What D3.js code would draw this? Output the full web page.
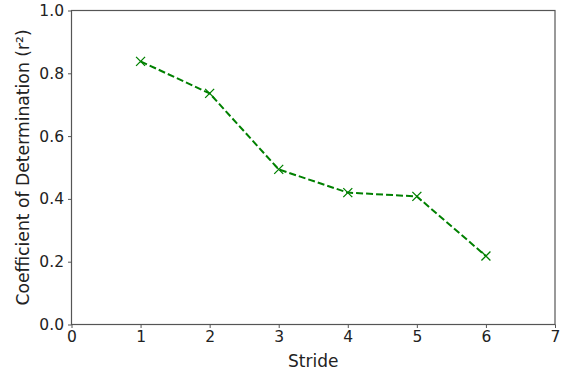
<!DOCTYPE html>
<html>
<head>
<meta charset="utf-8">
<script src="https://cdn.jsdelivr.net/npm/d3@7"></script>
<style>
  body { margin: 0; background: #fff; }
  text { font-family: "DejaVu Sans", sans-serif; fill: #222; }
</style>
</head>
<body>
<svg id="chart" width="565" height="373"></svg>
<script>
// data
const strides = [1, 2, 3, 4, 5, 6];
const r2 = [0.838, 0.736, 0.494, 0.420, 0.408, 0.218];
const xTicks = [0, 1, 2, 3, 4, 5, 6, 7];
const yTicks = [0.0, 0.2, 0.4, 0.6, 0.8, 1.0];

const svg = d3.select("#chart");
const m = {left: 71.5, right: 555, top: 10.5, bottom: 324.5};
const green = "#008000";
const axisCol = "#555";

const x = d3.scaleLinear().domain([0, 7]).range([m.left, m.right]);
const y = d3.scaleLinear().domain([0, 1]).range([m.bottom, m.top]);

// frame
svg.append("rect")
  .attr("x", m.left).attr("y", m.top)
  .attr("width", m.right - m.left).attr("height", m.bottom - m.top)
  .attr("fill", "none").attr("stroke", axisCol).attr("stroke-width", 1.2);

// axes
const xAxis = svg.append("g")
  .attr("transform", `translate(0,${m.bottom})`)
  .call(d3.axisBottom(x).tickValues(xTicks).tickFormat(d3.format("d")).tickSize(3.5).tickPadding(3));
const yAxis = svg.append("g")
  .attr("transform", `translate(${m.left},0)`)
  .call(d3.axisLeft(y).tickValues(yTicks).tickFormat(d3.format(".1f")).tickSize(3.5).tickPadding(4));

[xAxis, yAxis].forEach(g => {
  g.attr("font-size", 15.5).attr("font-family", "'DejaVu Sans', sans-serif");
  g.select(".domain").remove();
  g.selectAll(".tick line").attr("stroke", axisCol);
  g.selectAll(".tick text").attr("fill", "#222");
});

// axis labels
svg.append("text")
  .attr("x", (m.left + m.right) / 2).attr("y", 367)
  .attr("text-anchor", "middle").attr("font-size", 17)
  .text("Stride");
svg.append("text")
  .attr("transform", `translate(29,${(m.top + m.bottom) / 2}) rotate(-90)`)
  .attr("text-anchor", "middle").attr("font-size", 17.2)
  .text("Coefficient of Determination (r²)");

// line
const pts = strides.map((s, i) => [s, r2[i]]);
svg.append("path")
  .datum(pts)
  .attr("fill", "none")
  .attr("stroke", green)
  .attr("stroke-width", 2)
  .attr("stroke-dasharray", "7,3")
  .attr("d", d3.line().x(d => x(d[0])).y(d => y(d[1])));

// x markers
const s = 4.5;
svg.append("g").selectAll("path")
  .data(pts)
  .join("path")
  .attr("d", d => {
    const cx = x(d[0]), cy = y(d[1]);
    return `M${cx - s},${cy - s}L${cx + s},${cy + s}M${cx - s},${cy + s}L${cx + s},${cy - s}`;
  })
  .attr("stroke", green).attr("stroke-width", 1.3).attr("fill", "none");
</script>
</body>
</html>
